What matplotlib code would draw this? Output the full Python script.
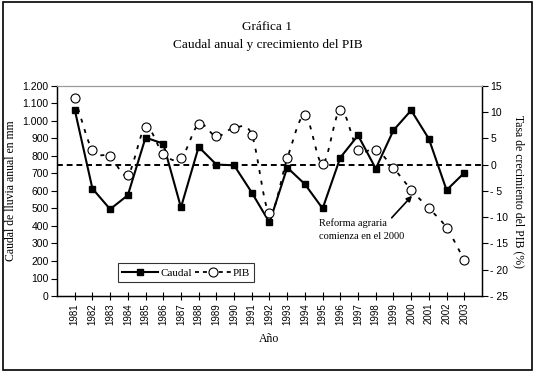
import numpy as np
import matplotlib.pyplot as plt
from matplotlib.ticker import FuncFormatter

anios = list(range(1981, 2004))
caudal = [1065, 614, 496, 576, 905, 871, 506, 852, 751, 747, 591, 420,
          734, 639, 500, 791, 918, 728, 947, 1061, 898, 605, 704]
pib = [12.7, 2.8, 1.6, -1.9, 7.1, 2.1, 1.2, 7.7, 5.4, 7.0, 5.7, -9.2,
       1.2, 9.4, 0.2, 10.5, 2.8, 2.9, -0.6, -4.8, -8.3, -12.0, -18.2]

serif = 'Liberation Serif'
sans = 'Liberation Sans'


def suave(x, y, n=20):
    # curva suavizada tipo Excel (Catmull-Rom) solo para dibujar la linea
    x = np.asarray(x, float); y = np.asarray(y, float)
    px = np.concatenate([[2*x[0]-x[1]], x, [2*x[-1]-x[-2]]])
    py = np.concatenate([[2*y[0]-y[1]], y, [2*y[-1]-y[-2]]])
    xs, ys = [], []
    t = np.linspace(0, 1, n)
    for i in range(1, len(px)-2):
        for p, out in ((px, xs), (py, ys)):
            p0, p1, p2, p3 = p[i-1], p[i], p[i+1], p[i+2]
            out.extend(0.5*((2*p1) + (-p0+p2)*t + (2*p0-5*p1+4*p2-p3)*t**2
                            + (-p0+3*p1-3*p2+p3)*t**3))
    return np.array(xs), np.array(ys)


fig = plt.figure(figsize=(5.35, 3.72), dpi=100)
ax = fig.add_axes([57/535, 1-296/372, 425/535, 210/372])
ax2 = ax.twinx()

pos = np.arange(1, len(anios)+1)

ax.axhline(750, color='black', lw=1.4, ls=(0, (3, 2)), zorder=1)
l1, = ax.plot(pos, caudal, color='black', lw=1.5, marker='s', ms=5,
              zorder=3, label='Caudal')

sx, sy = suave(pos, pib)
ax2.plot(sx, sy, color='black', lw=1.3, ls=(0, (2.2, 3.8)), zorder=2)
ax2.plot(pos, pib, ls='none', marker='o', ms=6.5, mfc='white', mec='black',
         mew=0.8, zorder=4)
l2, = ax2.plot([], [], color='black', lw=1.3, ls=(0, (2.2, 2.2)), marker='o',
               ms=6.5, mfc='white', mec='black', mew=0.8, label='PIB')

ax.set_xlim(0, 24)
ax.set_ylim(0, 1200)
ax2.set_ylim(-25, 15)
ax.set_yticks(range(0, 1201, 100))
ax2.set_yticks(range(-25, 16, 5))
ax.yaxis.set_major_formatter(FuncFormatter(lambda v, p: f'{int(v):,}'.replace(',', '.')))
ax2.yaxis.set_major_formatter(FuncFormatter(lambda v, p: f'- {abs(int(v))}' if v < 0 else f'{int(v)}'))
ax.set_xticks(pos)
ax.set_xticklabels([str(a) for a in anios], rotation=90, family=sans, fontsize=7)

for a in (ax, ax2):
    a.tick_params(axis='y', labelsize=7.5, length=4, width=0.8, pad=2)
    for lab in a.get_yticklabels():
        lab.set_family(sans)
ax.tick_params(axis='x', direction='inout', length=6, width=0.8, pad=2)
ax.spines['top'].set_color('#999999')
ax2.spines['top'].set_color('#999999')
for s in ('left', 'bottom', 'right'):
    ax2.spines[s].set_linewidth(0.9)
    ax.spines[s].set_linewidth(0.9)

ax.set_ylabel('Caudal de lluvia anual en mm', family=serif, fontsize=8.5, labelpad=4)
ax2.set_ylabel('Tasa de crecimiento del PIB (%)', family=serif, fontsize=8.5,
               rotation=-90, labelpad=12)
ax.set_xlabel('Año', family=serif, fontsize=8.5, labelpad=6)

fig.text(0.5, 1-27/372, 'Gráfica 1', ha='center', va='center', family=serif, fontsize=9.5)
fig.text(0.5, 1-45/372, 'Caudal anual y crecimiento del PIB', ha='center', va='center',
         family=serif, fontsize=9.5)

leg = ax.legend(handles=[l1, l2], loc='lower left', bbox_to_anchor=(0.13, 0.04),
                ncol=2, frameon=True, fancybox=False, edgecolor='black',
                prop={'family': serif, 'size': 8}, handlelength=3.2,
                columnspacing=0.3, handletextpad=0.2, borderpad=0.4)
leg.get_frame().set_linewidth(0.8)

ax2.text(14.8, -12.4, 'Reforma agraria\ncomienza en el 2000', family=serif,
         fontsize=7.5, ha='left', va='center', linespacing=1.5)
ax2.annotate('', xy=(20.05, -5.9), xytext=(18.9, -10.1),
             arrowprops=dict(arrowstyle='-|>', color='black', lw=1.2,
                             shrinkA=0, shrinkB=0, mutation_scale=8))

fig.patches.append(plt.Rectangle((0.006, 0.006), 0.988, 0.988, transform=fig.transFigure,
                                 fill=False, edgecolor='black', lw=1.2))

fig.savefig('out.png', dpi=100)
